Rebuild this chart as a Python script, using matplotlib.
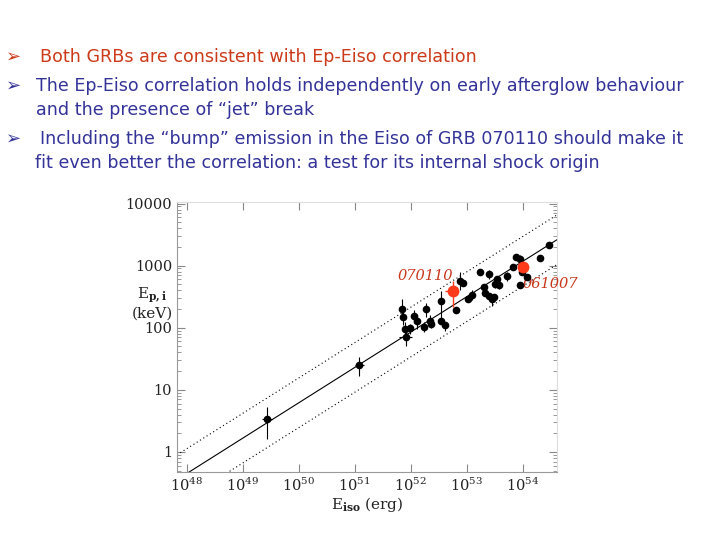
import numpy as np
import matplotlib
matplotlib.use("Agg")
import matplotlib.pyplot as plt
from matplotlib.ticker import NullLocator

plt.rcParams["mathtext.fontset"] = "dejavuserif"

# bullet text, one entry per printed line
line_y = [57, 86, 110, 139, 163]
line_x = [40, 36, 36, 40, 35]
line_text = [
    "Both GRBs are consistent with Ep-Eiso correlation",
    "The Ep-Eiso correlation holds independently on early afterglow behaviour",
    "and the presence of \u201cjet\u201d break",
    "Including the \u201cbump\u201d emission in the Eiso of GRB 070110 should make it",
    "fit even better the correlation: a test for its internal shock origin",
]
line_color = ["#cc3a1a", "#333399", "#333399", "#333399", "#333399"]
line_arrow = [True, True, False, True, False]

# GRB sample (log10 Eiso [erg], Ep,i [keV], lower/upper end of error bar)
log_eiso = [49.43, 51.08, 51.84, 51.86, 51.91, 51.90, 51.99, 52.05, 52.12, 52.24,
            52.27, 52.35, 52.37, 52.54, 52.54, 52.61, 52.80, 52.88, 52.93, 53.02,
            53.10, 53.23, 53.31, 53.33, 53.39, 53.40, 53.45, 53.48, 53.51, 53.54,
            53.57, 53.71, 53.82, 53.88, 53.95, 53.98, 53.95, 54.07, 54.30, 54.47]
ep = [3.35, 25, 200, 150, 72, 97, 98, 155, 130, 102,
      200, 130, 115, 270, 130, 110, 190, 570, 520, 295,
      340, 790, 455, 360, 720, 325, 295, 316, 515, 600,
      490, 680, 955, 1400, 1260, 790, 490, 650, 1350, 2140]
ep_lo = [1.6, 16.5, 135, 110, 50, 75, 80, 120, 95, 85,
         150, 105, 100, 130, 115, 90, 170, 400, 470, 270,
         280, 740, 420, 330, 600, 290, 220, 290, 430, 520,
         420, 560, 900, 1300, 1100, 700, 470, 600, 1280, 2050]
ep_hi = [5.2, 34, 290, 200, 100, 125, 115, 190, 160, 125,
         250, 160, 140, 390, 145, 125, 210, 800, 580, 320,
         400, 840, 490, 390, 850, 360, 330, 340, 600, 680,
         560, 800, 1010, 1500, 1500, 880, 510, 700, 1420, 2230]
xerr_dex = [0.09, 0.08, 0, 0, 0.12, 0, 0, 0, 0, 0,
            0, 0, 0, 0, 0, 0, 0, 0, 0, 0,
            0, 0, 0, 0, 0, 0, 0, 0, 0, 0,
            0, 0, 0, 0, 0, 0, 0, 0, 0, 0]

# the two highlighted GRBs
red_names = ["070110", "061007"]
red_log_eiso = [52.75, 54.01]
red_ep = [394, 935]
red_ep_lo = [219, 880]
red_ep_hi = [560, 990]
red_log_eiso_lo = [52.62, 53.98]
red_log_eiso_hi = [52.85, 54.04]
red_label_pos = [(52.255, 2.83), (54.49, 2.71)]  # log x, log y

# correlation: Ep = K * (Eiso / 1e52)^m, dotted lines at +-0.4 dex
K = 85.0
m = 0.57
band = 0.4

fig = plt.figure(figsize=(7.2, 5.4), dpi=100)

for y, x0, txt, col, arrow in zip(line_y, line_x, line_text, line_color, line_arrow):
    if arrow:
        fig.text(6 / 720, 1 - y / 540, "\u27a2", color=col, fontsize=13,
                 family=["DejaVu Sans"], va="center")
    fig.text(x0 / 720, 1 - y / 540, txt, color=col, fontsize=12.6,
             family=["DejaVu Sans"], va="center")

ax = fig.add_axes([177 / 720, 1 - 471.7 / 540, 380 / 720, 270 / 540])

xl = np.array([47.83, 54.61])
x_line = np.linspace(xl[0], xl[1], 50)
y_line = K * 10 ** (m * (x_line - 52))
ax.plot(10 ** x_line, y_line, color="black", lw=0.8)
ax.plot(10 ** x_line, y_line * 10 ** band, color="black", lw=0.8, ls=(0, (1, 2.5)))
ax.plot(10 ** x_line, y_line / 10 ** band, color="black", lw=0.8, ls=(0, (1, 2.5)))

le = np.array(log_eiso)
e = np.array(ep)
xe = np.array(xerr_dex)
yerr = [e - np.array(ep_lo), np.array(ep_hi) - e]
xerr = [10 ** le - 10 ** (le - xe), 10 ** (le + xe) - 10 ** le]
ax.errorbar(10 ** le, e, yerr=yerr, xerr=xerr, fmt="o", color="black",
            ms=4.5, elinewidth=0.8, capsize=0, zorder=3)

rl = np.array(red_log_eiso)
re_ = np.array(red_ep)
ax.errorbar(10 ** rl, re_,
            yerr=[re_ - np.array(red_ep_lo), np.array(red_ep_hi) - re_],
            xerr=[10 ** rl - 10 ** np.array(red_log_eiso_lo),
                  10 ** np.array(red_log_eiso_hi) - 10 ** rl],
            fmt="o", color="#ff3a1a", ms=7.5, elinewidth=1.0, capsize=0, zorder=4)

for name, (lx, ly) in zip(red_names, red_label_pos):
    ax.text(10 ** lx, 10 ** ly, name, color="#c8361a", fontsize=10.5,
            family="DejaVu Serif", style="italic", ha="center", va="center")

ax.set_xscale("log")
ax.set_yscale("log")
ax.set_xlim(10 ** xl[0], 10 ** xl[1])
ax.set_ylim(0.48, 10700)

ax.set_xticks([10.0 ** p for p in range(48, 55)])
ax.set_xticklabels([r"$10^{%d}$" % p for p in range(48, 55)])
ax.xaxis.set_minor_locator(NullLocator())
ax.set_yticks([1, 10, 100, 1000, 10000])
ax.set_yticklabels(["1", "10", "100", "1000", "10000"])
ax.tick_params(which="both", direction="in", top=True, right=True, color="#888888",
               labelsize=10.5, labelcolor="#222222")
ax.tick_params(which="major", length=6)
ax.tick_params(which="minor", length=3)
for lab in ax.get_xticklabels() + ax.get_yticklabels():
    lab.set_family("DejaVu Serif")
for s in ax.spines.values():
    s.set_color("#999999")
    s.set_linewidth(0.8)
ax.spines["top"].set_color("#dddddd")
ax.spines["right"].set_color("#dddddd")

fig.text(152 / 720, 1 - 303 / 540, "$\\mathrm{E}_{\\mathbf{p,i}}$\n(keV)", ha="center", va="center",
         fontsize=11, family="DejaVu Serif", color="#222222", linespacing=1.1)
fig.text(367 / 720, 1 - 505 / 540, "$\\mathrm{E}_{\\mathbf{iso}}$ (erg)", ha="center", va="center",
         fontsize=11, family="DejaVu Serif", color="#222222")

fig.savefig("out.png", dpi=100, facecolor="white")
